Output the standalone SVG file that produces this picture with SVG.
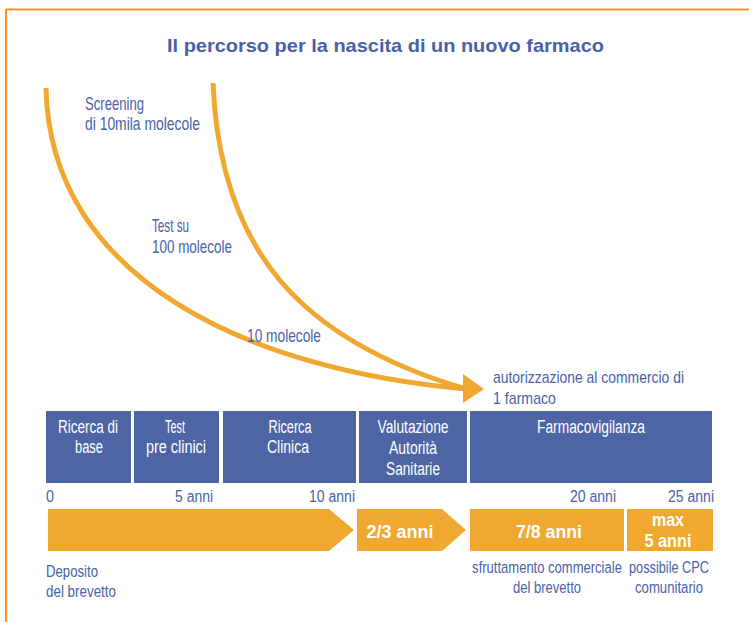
<svg xmlns="http://www.w3.org/2000/svg" width="749" height="622" viewBox="0 0 749 622">
<style>
text{font-family:"Liberation Sans",Arial,sans-serif}
.lbl{font-size:19px;fill:#4a62a8}
.ax{font-size:16px;fill:#4a62a8}
.sm{font-size:17px;fill:#4a62a8}
.wt{font-size:18px;fill:#ffffff;text-anchor:middle}
.bw{font-size:19px;font-weight:bold;fill:#ffffff;text-anchor:middle}
.box{fill:#4e65a5}
.bar{fill:#f0a830}
.curve{fill:none;stroke:#f0a830;stroke-width:5}
.mid{text-anchor:middle}
.end{text-anchor:end}
</style>
<rect width="749" height="622" fill="#ffffff"/>
<g id="frame">
<line x1="6" y1="9.5" x2="749" y2="9.5" stroke="#f7931e" stroke-width="2"/>
<line x1="6" y1="9" x2="6" y2="622" stroke="#f7931e" stroke-width="2"/>
</g>
<text id="title" x="167" y="52" textLength="437" lengthAdjust="spacingAndGlyphs" style="font-size:19px;font-weight:bold;fill:#4a5fa8">Il percorso per la nascita di un nuovo farmaco</text>

<g id="connectors">
<path class="curve" d="M46,88 C50,280 250,370 466,389"/>
<path class="curve" d="M213,83 C220,250 300,340 466,389"/>
<polygon points="463,374 484,389 463,403" fill="#f0a830"/>
</g>

<g id="funnel-labels">
<text class="lbl" x="85" y="110" textLength="59" lengthAdjust="spacingAndGlyphs">Screening</text>
<text class="lbl" x="85" y="130" textLength="115" lengthAdjust="spacingAndGlyphs">di 10mila molecole</text>
<text class="lbl" x="152" y="232" textLength="37" lengthAdjust="spacingAndGlyphs">Test su</text>
<text class="lbl" x="152" y="253" textLength="80" lengthAdjust="spacingAndGlyphs">100 molecole</text>
<text class="lbl" x="247" y="342" textLength="74" lengthAdjust="spacingAndGlyphs">10 molecole</text>
<text class="sm" x="493" y="383" textLength="191" lengthAdjust="spacingAndGlyphs">autorizzazione al commercio di</text>
<text class="sm" x="493" y="404" textLength="63" lengthAdjust="spacingAndGlyphs">1 farmaco</text>
</g>

<g id="ricerca-base">
<rect class="box" x="46" y="411" width="85" height="72"/>
<text class="wt" x="88" y="433" textLength="60" lengthAdjust="spacingAndGlyphs">Ricerca di</text>
<text class="wt" x="89" y="453" textLength="28" lengthAdjust="spacingAndGlyphs">base</text>
</g>
<g id="test-preclinici">
<rect class="box" x="134" y="411" width="85" height="72"/>
<text class="wt" x="175" y="433" textLength="20" lengthAdjust="spacingAndGlyphs">Test</text>
<text class="wt" x="176" y="453" textLength="60" lengthAdjust="spacingAndGlyphs">pre clinici</text>
</g>
<g id="ricerca-clinica">
<rect class="box" x="223" y="411" width="133" height="72"/>
<text class="wt" x="290" y="433" textLength="43" lengthAdjust="spacingAndGlyphs">Ricerca</text>
<text class="wt" x="288" y="453" textLength="42" lengthAdjust="spacingAndGlyphs">Clinica</text>
</g>
<g id="valutazione">
<rect class="box" x="359" y="411" width="108" height="72"/>
<text class="wt" x="413" y="433" textLength="71" lengthAdjust="spacingAndGlyphs">Valutazione</text>
<text class="wt" x="413" y="454" textLength="48" lengthAdjust="spacingAndGlyphs">Autorità</text>
<text class="wt" x="413" y="475" textLength="54" lengthAdjust="spacingAndGlyphs">Sanitarie</text>
</g>
<g id="farmacovigilanza">
<rect class="box" x="470" y="411" width="242" height="72"/>
<text class="wt" x="591" y="433" textLength="108" lengthAdjust="spacingAndGlyphs">Farmacovigilanza</text>
</g>

<g id="axis">
<text class="ax" x="46" y="502" textLength="8" lengthAdjust="spacingAndGlyphs">0</text>
<text class="ax end" x="213" y="502" textLength="38" lengthAdjust="spacingAndGlyphs">5 anni</text>
<text class="ax end" x="355" y="502" textLength="46" lengthAdjust="spacingAndGlyphs">10 anni</text>
<text class="ax end" x="616" y="502" textLength="46" lengthAdjust="spacingAndGlyphs">20 anni</text>
<text class="ax end" x="714" y="502" textLength="46" lengthAdjust="spacingAndGlyphs">25 anni</text>
</g>

<g id="brevetto">
<polygon class="bar" points="48,509 329,509 354,530 329,551 48,551"/>
<text class="sm" x="46" y="577" textLength="52" lengthAdjust="spacingAndGlyphs">Deposito</text>
<text class="sm" x="46" y="597" textLength="70" lengthAdjust="spacingAndGlyphs">del brevetto</text>
</g>
<g id="valutazione-anni">
<polygon class="bar" points="357,509 442,509 466,530 442,551 357,551"/>
<text class="bw" x="400" y="538" textLength="67" lengthAdjust="spacingAndGlyphs">2/3 anni</text>
</g>
<g id="sfruttamento">
<rect class="bar" x="470" y="509" width="154" height="42"/>
<text class="bw" x="549" y="538" textLength="66" lengthAdjust="spacingAndGlyphs">7/8 anni</text>
<text class="sm mid" transform="translate(547,573) scale(0.767,1)">sfruttamento commerciale</text>
<text class="sm mid" x="547" y="593" textLength="68" lengthAdjust="spacingAndGlyphs">del brevetto</text>
</g>
<g id="cpc">
<rect class="bar" x="627" y="509" width="86" height="42"/>
<text class="bw" x="668" y="526" textLength="32" lengthAdjust="spacingAndGlyphs">max</text>
<text class="bw" x="668" y="547" textLength="47" lengthAdjust="spacingAndGlyphs">5 anni</text>
<text class="sm mid" transform="translate(669,573) scale(0.75,1)">possibile CPC</text>
<text class="sm mid" x="669" y="593" textLength="68" lengthAdjust="spacingAndGlyphs">comunitario</text>
</g>
</svg>
